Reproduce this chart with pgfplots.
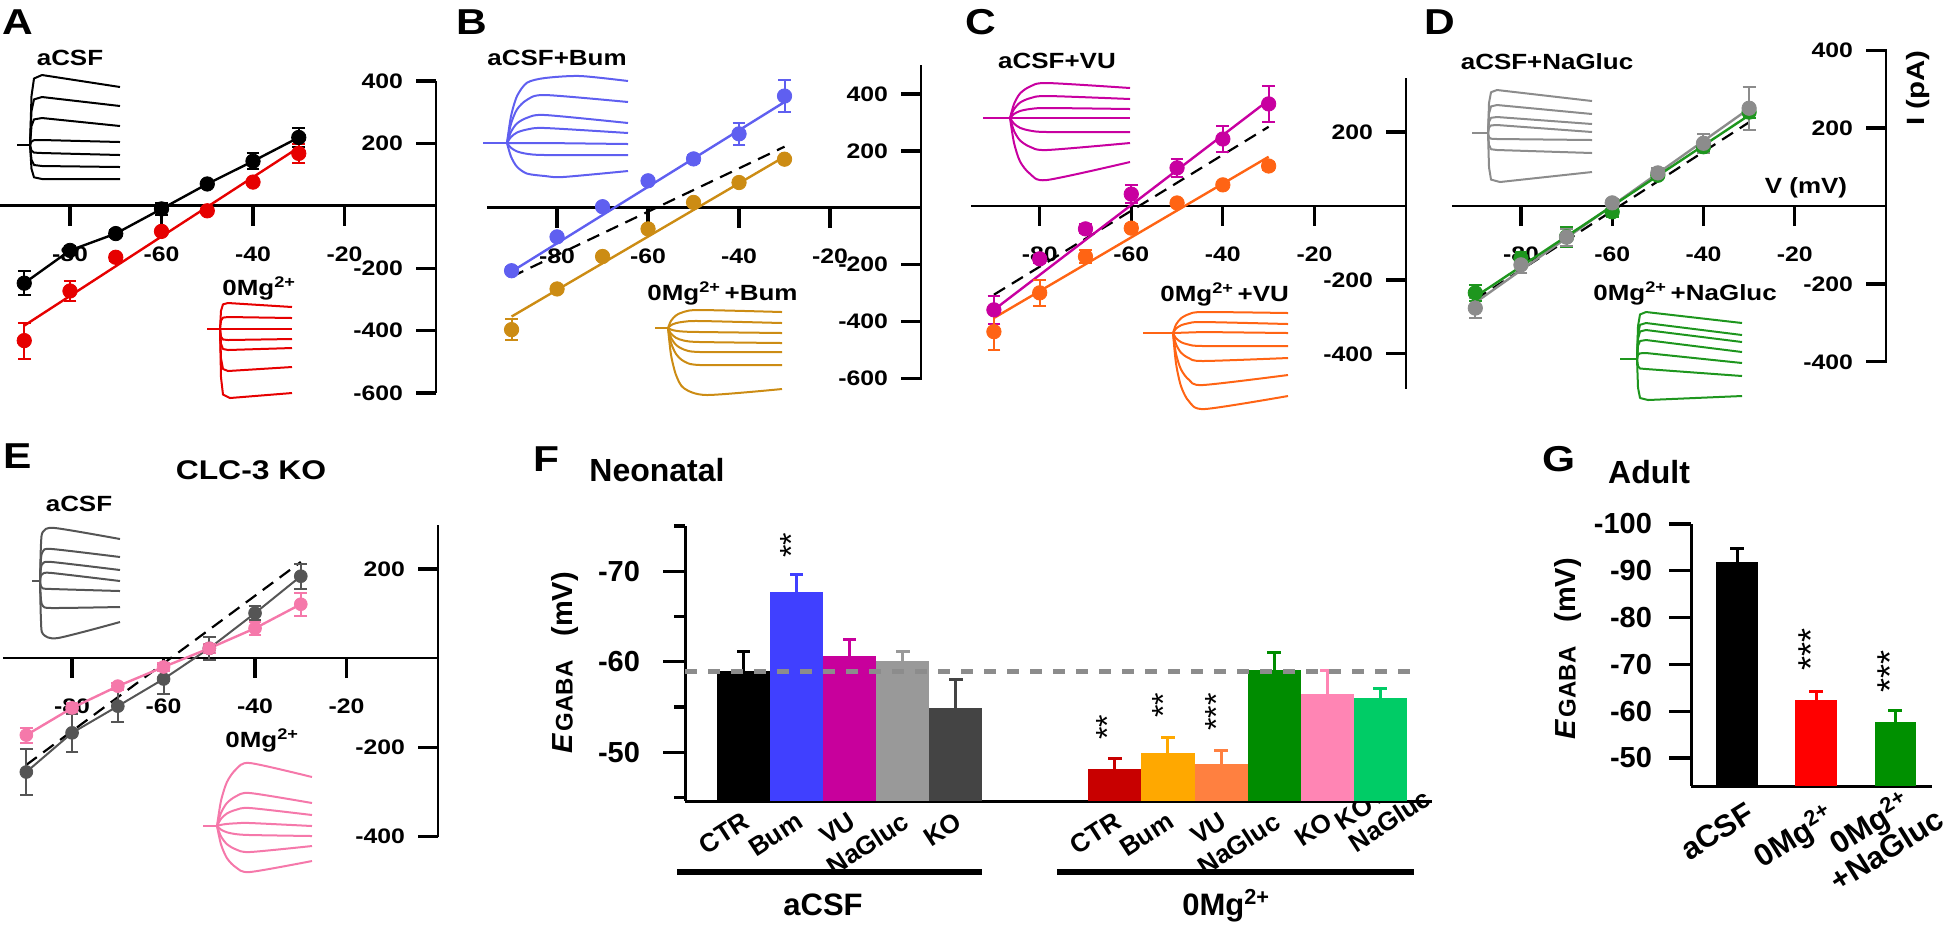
\documentclass[border=0pt]{standalone}
\usepackage{fontspec}
\setmainfont{Liberation Sans}
\newfontfamily\wf{Liberation Sans}[FakeStretch=1.18]
\usepackage{pgfplots}
\pgfplotsset{compat=1.18}

\definecolor{cRed}{RGB}{230,0,0}
\definecolor{cBlue}{RGB}{95,95,240}
\definecolor{cGold}{RGB}{204,140,20}
\definecolor{cMag}{RGB}{200,0,160}
\definecolor{cOrg}{RGB}{255,100,20}
\definecolor{cGry}{RGB}{140,140,140}
\definecolor{cGrn}{RGB}{30,150,30}
\definecolor{cDk}{RGB}{85,85,85}
\definecolor{cPnk}{RGB}{245,120,170}
\definecolor{fBum}{RGB}{64,64,255}
\definecolor{fVU}{RGB}{200,0,156}
\definecolor{fNa}{RGB}{153,153,153}
\definecolor{fKO}{RGB}{68,68,68}
\definecolor{fCTRm}{RGB}{200,0,0}
\definecolor{fBumm}{RGB}{255,168,0}
\definecolor{fVUm}{RGB}{255,128,64}
\definecolor{fNam}{RGB}{0,140,0}
\definecolor{fKOm}{RGB}{255,133,180}
\definecolor{fKONa}{RGB}{0,204,102}
\definecolor{gRed}{RGB}{255,0,0}
\definecolor{gGrn}{RGB}{0,144,0}
\definecolor{dashg}{RGB}{140,140,140}

\newcommand\tlf{\wf\bfseries\fontsize{10.5}{12}\selectfont}
\newcommand\labf{\wf\bfseries\fontsize{11}{13}\selectfont}
\newcommand\pnl{\wf\bfseries\fontsize{18}{20}\selectfont}
\newcommand\fs[1]{\fontsize{#1}{#1}\selectfont}
\newcommand\sqp{\textsuperscript{2+}}
% tick marks of the IV axes (x ticks down, y ticks to the left of the right-hand axis)
\newcommand\xt[1]{\draw[black, line width=1.6pt] (axis cs:#1,0) -- ++(0pt,-10pt);}
\newcommand\yt[1]{\draw[black, line width=1.6pt] (axis cs:0,#1) -- ++(-10pt,0pt);}
% tick marks of the bar axes
\newcommand\ybt[3]{\draw[black, line width=1.6pt] (axis cs:#1,#2) -- ++(-#3,0pt);}

\pgfplotsset{
  iv/.style={scale only axis, anchor=north west,
    axis x line=middle, axis y line=right,
    axis line style={-, line width=1.4pt},
    every inner x axis line/.append style={-}, every outer x axis line/.append style={-},
    every inner y axis line/.append style={-}, every outer y axis line/.append style={-},
    xmax=0, xtick={-80,-60,-40,-20}, xticklabels={-80,-60,-40,-20},
    xtick align=outside, ytick align=inside,
    major tick length=10pt, tick style={draw=black, line width=1.5pt},
    xticklabel style={font=\tlf, anchor=north, yshift=-7pt},
    yticklabel style={font=\tlf, anchor=east, xshift=-13pt},
    clip=false},
  pts/.style={only marks, mark=*, mark size=3.6pt, color=#1,
    mark options={fill=#1, draw=#1},
    error bars/y dir=both, error bars/y explicit,
    error bars/error bar style={#1, line width=1pt},
    error bars/error mark options={rotate=90, #1, mark size=3.2pt, line width=1pt}},
  fitl/.style={#1, line width=1.2pt, no marks},
  dsh/.style={black, line width=1.1pt, dash pattern=on 6.5pt off 4pt, no marks},
  tr/.style={#1, line width=1pt, no marks, line join=round},
  trs/.style={#1, line width=1pt, no marks, smooth, tension=0.45},
  fb/.style={fill=#1, draw=none,
    error bars/y dir=plus, error bars/y explicit,
    error bars/error bar style={draw=#1, line width=1.5pt},
    error bars/error mark options={rotate=90, draw=#1, mark size=3.3pt, line width=1.5pt}},
}

\begin{document}
\begin{tikzpicture}
\path[use as bounding box] (0,0) rectangle (973pt,-463pt);

% ---------------- overlay (pixel frame): insets, labels -------------
\begin{axis}[scale only axis, at={(0pt,0pt)}, anchor=north west,
  width=973pt, height=463pt, xmin=0, xmax=1946, ymin=0, ymax=926,
  y dir=reverse, hide axis, clip=false]
% A aCSF traces
\addplot[tr=black] coordinates {(17,145)(30,145)};
\addplot[tr=black] coordinates {(30,145)(31.5,96)(34,78.5)(42,75)(120,87)};
\addplot[tr=black] coordinates {(30,145)(31.5,111)(34,99.4)(42,97)(120,106)};
\addplot[tr=black] coordinates {(30,145)(31.5,126)(34,119.4)(42,118)(120,126)};
\addplot[tr=black] coordinates {(30,145)(31.5,141.5)(34,140.2)(42,140)(120,142)};
\addplot[tr=black] coordinates {(30,145)(31.5,150.6)(34,152.6)(42,153)(120,155)};
\addplot[tr=black] coordinates {(30,145)(31.5,159.7)(34,165)(42,166)(120,167)};
\addplot[tr=black] coordinates {(30,145)(31.5,168.8)(34,177.3)(42,179)(120,179)};
% A 0Mg traces
\addplot[tr=cRed] coordinates {(207,329)(220,329)};
\addplot[tr=cRed] coordinates {(220,329)(221,310.8)(223,304.3)(228,303)(292,307)};
\addplot[tr=cRed] coordinates {(220,329)(221,320.6)(223,317.6)(228,317)(292,318)};
\addplot[tr=cRed] coordinates {(220,329)(228,329)(292,329)};
\addplot[tr=cRed] coordinates {(220,329)(221,336.7)(223,339.5)(228,340)(292,339)};
\addplot[tr=cRed] coordinates {(220,329)(221,343.7)(223,349)(228,350)(292,348)};
\addplot[tr=cRed] coordinates {(220,329)(221,358.4)(223,369)(228,371)(292,367)};
\addplot[tr=cRed] coordinates {(220,329)(221,377.3)(223,394.6)(230,398)(292,393)};
% B aCSF+Bum
\addplot[tr=cBlue] coordinates {(483,143)(507,143)};
\addplot[trs=cBlue] coordinates {(507,143)(511,116.2)(517,96.1)(527,82.7)(545,78)(580,76)(628,81)};
\addplot[trs=cBlue] coordinates {(507,143)(511,123.8)(517,109.4)(527,99.8)(545,95)(628,102)};
\addplot[trs=cBlue] coordinates {(507,143)(511,131.8)(517,123.4)(527,117.8)(545,115)(628,123)};
\addplot[trs=cBlue] coordinates {(507,143)(511,137)(517,132.5)(527,129.5)(545,128)(628,133)};
\addplot[tr=cBlue] coordinates {(507,143)(545,143)(628,144)};
\addplot[trs=cBlue] coordinates {(507,143)(511,147.8)(517,151.4)(527,153.8)(545,155)(628,155)};
\addplot[trs=cBlue] coordinates {(507,143)(511,156.6)(517,166.8)(527,173.6)(545,176)(563,177)(628,171)};
% B 0Mg+Bum
\addplot[tr=cGold] coordinates {(655,328)(668,328)};
\addplot[trs=cGold] coordinates {(668,328)(671,320.8)(676,315.4)(684,311.8)(700,310)(782,312)};
\addplot[trs=cGold] coordinates {(668,328)(671,325.2)(676,323.1)(684,321.7)(700,321)(782,323)};
\addplot[trs=cGold] coordinates {(668,328)(671,329.6)(676,330.8)(684,331.6)(700,332)(782,333)};
\addplot[trs=cGold] coordinates {(668,328)(671,333.6)(676,337.8)(684,340.6)(700,342)(782,343)};
\addplot[trs=cGold] coordinates {(668,328)(671,337.6)(676,344.8)(684,349.6)(700,352)(782,352)};
\addplot[trs=cGold] coordinates {(668,328)(671,342.8)(676,353.9)(684,361.3)(700,365)(782,365)};
\addplot[trs=cGold] coordinates {(668,328)(671,354.8)(676,374.9)(684,388.3)(707,395)(782,389)};
% C aCSF+VU
\addplot[tr=cMag] coordinates {(983,118)(1010,118)};
\addplot[trs=cMag] coordinates {(1010,118)(1014,104)(1020,93.5)(1030,86.5)(1047,83)(1130,88)};
\addplot[trs=cMag] coordinates {(1010,118)(1014,109.2)(1020,102.6)(1030,98.2)(1047,96)(1130,99)};
\addplot[trs=cMag] coordinates {(1010,118)(1014,114)(1020,111)(1030,109)(1047,108)(1130,109)};
\addplot[tr=cMag] coordinates {(1010,118)(1047,118)(1130,118)};
\addplot[trs=cMag] coordinates {(1010,118)(1014,123.6)(1020,127.8)(1030,130.6)(1047,132)(1130,132)};
\addplot[trs=cMag] coordinates {(1010,118)(1014,130.8)(1020,140.4)(1030,146.8)(1047,150)(1130,143)};
\addplot[trs=cMag] coordinates {(1010,118)(1014,142.8)(1020,161.4)(1030,173.8)(1047,180)(1130,162)};
% C 0Mg+VU
\addplot[tr=cOrg] coordinates {(1143,333)(1173,333)};
\addplot[trs=cOrg] coordinates {(1173,333)(1176,324.6)(1181,318.3)(1189,314.1)(1203,312)(1288,313)};
\addplot[trs=cOrg] coordinates {(1173,333)(1176,328.6)(1181,325.3)(1189,323.1)(1203,322)(1288,324)};
\addplot[tr=cOrg] coordinates {(1173,333)(1203,332)(1288,333)};
\addplot[trs=cOrg] coordinates {(1173,333)(1176,338.2)(1181,342.1)(1189,344.7)(1203,346)(1288,346)};
\addplot[trs=cOrg] coordinates {(1173,333)(1176,344.2)(1181,352.6)(1189,358.2)(1203,361)(1288,358)};
\addplot[trs=cOrg] coordinates {(1173,333)(1176,353.8)(1181,369.4)(1189,379.8)(1203,385)(1288,375)};
\addplot[trs=cOrg] coordinates {(1173,333)(1176,363.4)(1181,386.2)(1189,401.4)(1205,409)(1288,396)};
% D aCSF+NaGluc
\addplot[tr=cGry] coordinates {(1472,133)(1488,133)};
\addplot[tr=cGry] coordinates {(1488,133)(1489,102.9)(1491,92.2)(1497,90)(1592,101)};
\addplot[tr=cGry] coordinates {(1488,133)(1489,113.4)(1491,106.4)(1497,105)(1592,114)};
\addplot[tr=cGry] coordinates {(1488,133)(1489,121.8)(1491,117.8)(1497,117)(1592,124)};
\addplot[tr=cGry] coordinates {(1488,133)(1489,127.4)(1491,125.4)(1497,125)(1592,132)};
\addplot[tr=cGry] coordinates {(1488,133)(1489,137.2)(1491,138.7)(1497,139)(1592,140)};
\addplot[tr=cGry] coordinates {(1488,133)(1489,144.9)(1491,149.2)(1497,150)(1592,153)};
\addplot[tr=cGry] coordinates {(1488,133)(1489,167.3)(1491,179.6)(1500,182)(1592,172)};
% D 0Mg+NaGluc
\addplot[tr=cGrn] coordinates {(1620,359)(1637,359)};
\addplot[tr=cGrn] coordinates {(1637,359)(1638,326.1)(1640,314.4)(1646,312)(1742,323)};
\addplot[tr=cGrn] coordinates {(1637,359)(1638,333.8)(1640,324.8)(1646,323)(1742,335)};
\addplot[tr=cGrn] coordinates {(1637,359)(1638,338.7)(1640,331.5)(1646,330)(1742,342)};
\addplot[tr=cGrn] coordinates {(1637,359)(1638,345.7)(1640,341)(1646,340)(1742,352)};
\addplot[tr=cGrn] coordinates {(1637,359)(1638,354.8)(1640,353.3)(1646,353)(1742,363)};
\addplot[tr=cGrn] coordinates {(1637,359)(1638,366)(1640,368.5)(1646,369)(1742,376)};
\addplot[tr=cGrn] coordinates {(1637,359)(1638,387.7)(1640,398)(1648,400)(1742,396)};
% E aCSF (KO)
\addplot[tr=cDk] coordinates {(32,581)(40,581)};
\addplot[trs=cDk] coordinates {(40,581)(41,543.9)(43,531.7)(55,528)(120,539)};
\addplot[trs=cDk] coordinates {(40,581)(41,558.6)(43,551.2)(52,549)(120,557)};
\addplot[trs=cDk] coordinates {(40,581)(41,567.7)(43,563.3)(52,562)(120,570)};
\addplot[trs=cDk] coordinates {(40,581)(41,575.4)(43,573.6)(52,573)(120,581)};
\addplot[trs=cDk] coordinates {(40,581)(41,586.6)(43,588.4)(52,589)(120,591)};
\addplot[trs=cDk] coordinates {(40,581)(41,599.9)(43,606.1)(52,608)(120,607)};
\addplot[trs=cDk] coordinates {(40,581)(41,620.9)(43,634)(58,638)(120,622)};
% E 0Mg (KO)
\addplot[tr=cPnk] coordinates {(203,826)(217,826)};
\addplot[trs=cPnk] coordinates {(217,826)(221,800.8)(227,781.9)(236,769.3)(250,763)(312,777)};
\addplot[trs=cPnk] coordinates {(217,826)(221,812.8)(227,802.9)(236,796.3)(250,793)(312,803)};
\addplot[trs=cPnk] coordinates {(217,826)(221,818.8)(227,813.4)(236,809.8)(250,808)(312,815)};
\addplot[trs=cPnk] coordinates {(217,826)(221,824.8)(227,823.9)(236,823.3)(250,823)(312,826)};
\addplot[trs=cPnk] coordinates {(217,826)(221,829.6)(227,832.3)(236,834.1)(250,835)(312,836)};
\addplot[trs=cPnk] coordinates {(217,826)(221,836.4)(227,844.2)(236,849.4)(250,852)(312,846)};
\addplot[trs=cPnk] coordinates {(217,826)(221,844.4)(227,858.2)(236,867.4)(250,872)(312,861)};
% F group bars
\addplot[black, line width=3pt, no marks] coordinates {(677,872)(982,872)};
\addplot[black, line width=3pt, no marks] coordinates {(1057,872)(1414,872)};

% panel letters
\node[font=\pnl] at (18,22) {A};
\node[font=\pnl] at (472,22) {B};
\node[font=\pnl] at (981,22) {C};
\node[font=\pnl] at (1440,22) {D};
\node[font=\pnl] at (18,456) {E};
\node[font=\pnl] at (546,459) {F};
\node[font=\pnl] at (1559,459) {G};
% inset labels
\node[font=\labf] at (70,58) {aCSF};
\node[font=\labf, anchor=base west, inner sep=0pt] at (222,295) {0Mg\sqp};
\node[font=\labf] at (557,58) {aCSF+Bum};
\node[font=\labf, anchor=base west, inner sep=0pt] at (647,300) {0Mg\sqp\,+Bum};
\node[font=\labf] at (1057,61) {aCSF+VU};
\node[font=\labf, anchor=base west, inner sep=0pt] at (1160,301) {0Mg\sqp\,+VU};
\node[font=\labf] at (1547,62) {aCSF+NaGluc};
\node[font=\labf, anchor=base west, inner sep=0pt] at (1593,300) {0Mg\sqp\,+NaGluc};
\node[font=\wf\bfseries\fs{13.5}] at (251,470) {CLC-3 KO};
\node[font=\labf] at (79,504) {aCSF};
\node[font=\labf, anchor=base west, inner sep=0pt] at (225,747) {0Mg\sqp};
\node[font=\wf\bfseries\fs{11}] at (1806,188) {V (mV)};
\node[font=\wf\bfseries\fs{12.5}, rotate=90] at (1918,88) {I (pA)};
% F / G titles and labels
\node[font=\bfseries\fs{16}] at (657,470) {Neonatal};
\node[font=\bfseries\fs{16}] at (1649,472) {Adult};
\node[font=\bfseries\fs{15.5}, anchor=base] at (823,915) {aCSF};
\node[font=\bfseries\fs{15.5}, anchor=base west, inner sep=0pt] at (1182,915) {0Mg\sqp};
\node[rotate=90, font=\bfseries] at (565,663) {{\itshape\fs{14.5}E}\,{\fs{12}GABA}\hspace{12pt}{\fs{14.5}(mV)}};
\node[rotate=90, font=\bfseries] at (1568,649) {{\itshape\fs{14.5}E}\,{\fs{12}GABA}\hspace{12pt}{\fs{14.5}(mV)}};
% significance stars
\node[rotate=90, font=\fs{16}] at (791,545) {**};
\node[rotate=90, font=\fs{16}] at (1107,727) {**};
\node[rotate=90, font=\fs{16}] at (1163,705) {**};
\node[rotate=90, font=\fs{16}] at (1216,712) {***};
\node[rotate=90, font=\fs{18}] at (1811,649) {***};
\node[rotate=90, font=\fs{18}] at (1890,671) {***};
\end{axis}

% ---------------- A ----------------
\begin{axis}[iv, at={(0pt,-40.5pt)}, width=218pt, height=156pt,
  xmin=-95.3, ymin=-600, ymax=400,
  ytick={-600,-400,-200,200,400}, yticklabels={-600,-400,-200,200,400}]
\xt{-80}\xt{-60}\xt{-40}\xt{-20}
\yt{-600}\yt{-400}\yt{-200}\yt{200}\yt{400}
\addplot[fitl=cRed] coordinates {(-90,-384) (-30,187)};
\addplot[fitl=black] coordinates {(-90,-248) (-80,-143) (-70,-89) (-60,-10) (-50,70) (-40,143) (-30,219)};
\addplot[pts=black] coordinates {(-90,-248) +- (0,38) (-80,-143) +- (0,15) (-70,-89) +- (0,12) (-60,-10) +- (0,20) (-50,70) +- (0,10) (-40,143) +- (0,25) (-30,219) +- (0,30)};
\addplot[pts=cRed] coordinates {(-90,-432) +- (0,58) (-80,-273) +- (0,32) (-70,-165) +- (0,12) (-60,-82) +- (0,8) (-50,-16) +- (0,8) (-40,76) +- (0,8) (-30,168) +- (0,30)};
\end{axis}

% ---------------- B ----------------
\begin{axis}[iv, at={(243.5pt,-32.5pt)}, width=217pt, height=157.5pt,
  xmin=-95.4, ymin=-605, ymax=502,
  ytick={-600,-400,-200,200,400}, yticklabels={-600,-400,-200,200,400}]
\xt{-80}\xt{-60}\xt{-40}\xt{-20}
\yt{-600}\yt{-400}\yt{-200}\yt{200}\yt{400}
\addplot[dsh] coordinates {(-90,-242) (-30,215)};
\addplot[fitl=cBlue] coordinates {(-90,-224) (-30,372)};
\addplot[fitl=cGold] coordinates {(-90,-382) (-30,180)};
\addplot[pts=cBlue] coordinates {(-90,-221) +- (0,12) (-80,-102) +- (0,8) (-70,4) +- (0,8) (-60,95) +- (0,8) (-50,172) +- (0,15) (-40,260) +- (0,38) (-30,393) +- (0,57)};
\addplot[pts=cGold] coordinates {(-90,-428) +- (0,37) (-80,-285) +- (0,15) (-70,-171) +- (0,12) (-60,-74) +- (0,8) (-50,19) +- (0,8) (-40,89) +- (0,8) (-30,171) +- (0,8)};
\end{axis}

% ---------------- C ----------------
\begin{axis}[iv, at={(485.5pt,-39pt)}, width=217.5pt, height=155.5pt,
  xmin=-95.0, ymin=-495, ymax=346,
  ytick={-400,-200,200}, yticklabels={-400,-200,200}]
\xt{-80}\xt{-60}\xt{-40}\xt{-20}
\yt{-400}\yt{-200}\yt{200}
\addplot[dsh] coordinates {(-90,-240) (-30,214)};
\addplot[fitl=cMag] coordinates {(-90,-281) (-30,286)};
\addplot[fitl=cOrg] coordinates {(-90,-303) (-30,133)};
\addplot[pts=cMag] coordinates {(-90,-281) +- (0,38) (-80,-143) +- (0,10) (-70,-62) +- (0,12) (-60,32) +- (0,25) (-50,103) +- (0,25) (-40,181) +- (0,35) (-30,276) +- (0,49)};
\addplot[pts=cOrg] coordinates {(-90,-340) +- (0,50) (-80,-235) +- (0,36) (-70,-137) +- (0,18) (-60,-60) +- (0,10) (-50,8) +- (0,8) (-40,57) +- (0,8) (-30,108) +- (0,12)};
\end{axis}

% ---------------- D ----------------
\begin{axis}[iv, at={(726pt,-24.5pt)}, width=217pt, height=157pt,
  xmin=-95.1, ymin=-403, ymax=403,
  ytick={-400,-200,200,400}, yticklabels={-400,-200,200,400}]
\xt{-80}\xt{-60}\xt{-40}\xt{-20}
\yt{-400}\yt{-200}\yt{200}\yt{400}
\addplot[dsh] coordinates {(-90,-240) (-30,215)};
\addplot[fitl=cGry] coordinates {(-90,-248) (-30,250)};
\addplot[fitl=cGrn] coordinates {(-90,-233) (-30,233)};
\addplot[pts=cGrn] coordinates {(-90,-223) +- (0,20) (-80,-134) +- (0,15) (-70,-79) +- (0,26) (-60,-15) +- (0,12) (-50,79) +- (0,10) (-40,152) +- (0,12) (-30,241) +- (0,15)};
\addplot[pts=cGry] coordinates {(-90,-262) +- (0,26) (-80,-151) +- (0,20) (-70,-80) +- (0,22) (-60,8) +- (0,10) (-50,85) +- (0,12) (-40,161) +- (0,25) (-30,251) +- (0,55)};
\end{axis}

% ---------------- E ----------------
\begin{axis}[iv, at={(1.5pt,-262.5pt)}, width=217.5pt, height=156pt,
  xmin=-95.1, ymin=-402, ymax=299,
  ytick={-400,-200,200}, yticklabels={-400,-200,200}]
\xt{-80}\xt{-60}\xt{-40}\xt{-20}
\yt{-400}\yt{-200}\yt{200}
\addplot[dsh] coordinates {(-90,-240) (-30,216)};
\addplot[fitl=cDk, line width=1pt] coordinates {(-90,-256) (-80,-168) (-70,-108) (-60,-47) (-50,22) (-40,101) (-30,184)};
\addplot[fitl=cPnk] coordinates {(-90,-173) (-80,-112) (-70,-63) (-60,-20) (-50,22) (-40,67) (-30,121)};
\addplot[pts=cDk, mark size=3.2pt] coordinates {(-90,-256) +- (0,52) (-80,-168) +- (0,43) (-70,-108) +- (0,36) (-60,-47) +- (0,34) (-50,22) +- (0,26) (-40,101) +- (0,15) (-30,184) +- (0,28)};
\addplot[pts=cPnk, mark size=3.2pt] coordinates {(-90,-173) +- (0,17) (-80,-112) +- (0,10) (-70,-63) +- (0,8) (-60,-20) +- (0,8) (-50,22) +- (0,10) (-40,67) +- (0,15) (-30,121) +- (0,26)};
\end{axis}

% ---------------- F (values are -E_GABA in mV) ----------------
\begin{axis}[scale only axis, anchor=north west, at={(342.5pt,-263pt)},
  width=373.5pt, height=137.5pt,
  xmin=-1.11, xmax=12.98, ymin=44.6, ymax=75,
  axis x line=bottom, axis y line=left,
  axis line style={-, line width=1.5pt},
  ytick={50,60,70}, yticklabels={-50,-60,-70}, minor ytick={45,55,65,75},
  ytick align=outside, major tick length=11pt, minor tick length=5.5pt,
  tick style={draw=black, line width=1.5pt},
  major x tick style={draw=none},
  xtick={0,1,2,3,4,7,8,9,10,11},
  xticklabels={CTR,Bum,VU,NaGluc,KO,CTR,Bum,VU,NaGluc,KO},
  extra x ticks={12}, extra x tick labels={{KO+\\NaGluc}},
  extra x tick style={major tick length=0pt, xticklabel style={xshift=19pt, yshift=1pt}},
  xticklabel style={font=\bfseries\fs{13}, yshift=11pt, rotate=33, anchor=north east, align=left},
  yticklabel style={font=\bfseries\fs{14.5}, xshift=-8pt},
  ybar, bar width=1, bar shift=0pt, clip=false]
\ybt{-1.11}{50}{11pt}\ybt{-1.11}{60}{11pt}\ybt{-1.11}{70}{11pt}
\ybt{-1.11}{45}{5.5pt}\ybt{-1.11}{55}{5.5pt}\ybt{-1.11}{65}{5.5pt}\ybt{-1.11}{75}{5.5pt}
\addplot[fb=black] coordinates {(0,59.0) +- (0,2.1)};
\addplot[fb=fBum] coordinates {(1,67.7) +- (0,1.9)};
\addplot[fb=fVU] coordinates {(2,60.6) +- (0,1.9)};
\addplot[fb=fNa] coordinates {(3,60.1) +- (0,1.0)};
\addplot[fb=fKO] coordinates {(4,54.9) +- (0,3.1)};
\addplot[fb=fCTRm] coordinates {(7,48.1) +- (0,1.2)};
\addplot[fb=fBumm] coordinates {(8,49.9) +- (0,1.7)};
\addplot[fb=fVUm] coordinates {(9,48.7) +- (0,1.5)};
\addplot[fb=fNam] coordinates {(10,59.1) +- (0,1.9)};
\addplot[fb=fKOm] coordinates {(11,56.4) +- (0,2.6)};
\addplot[fb=fKONa] coordinates {(12,56.0) +- (0,1.0)};
\addplot[sharp plot, dashg, line width=2.5pt, dash pattern=on 6pt off 5.5pt, no marks] coordinates {(-1.11,58.9) (12.62,58.9)};
\end{axis}

% ---------------- G (values are -E_GABA in mV) ----------------
\begin{axis}[scale only axis, anchor=north west, at={(845.5pt,-262pt)},
  width=120.5pt, height=131pt,
  xmin=-0.582, xmax=2.468, ymin=44, ymax=100,
  axis x line=bottom, axis y line=left,
  axis line style={-, line width=1.5pt},
  ytick={50,60,70,80,90,100}, yticklabels={-50,-60,-70,-80,-90,-100},
  ytick align=outside, major tick length=11pt,
  tick style={draw=black, line width=1.5pt},
  major x tick style={draw=none},
  xtick={0,1}, xticklabels={aCSF,0Mg\sqp},
  extra x ticks={2}, extra x tick labels={{0Mg\sqp\\+NaGluc}},
  extra x tick style={major tick length=0pt, xticklabel style={xshift=6pt, yshift=-3pt}},
  xticklabel style={font=\bfseries\fs{15.5}, xshift=5pt, yshift=8.5pt, rotate=32, anchor=north east, align=center},
  yticklabel style={font=\bfseries\fs{14.5}, xshift=-5pt},
  ybar, bar width=0.52, bar shift=0pt, clip=false]
\ybt{-0.582}{50}{11pt}\ybt{-0.582}{60}{11pt}\ybt{-0.582}{70}{11pt}
\ybt{-0.582}{80}{11pt}\ybt{-0.582}{90}{11pt}\ybt{-0.582}{100}{11pt}
\addplot[fb=black] coordinates {(0,91.9) +- (0,2.8)};
\addplot[fb=gRed] coordinates {(1,62.4) +- (0,1.9)};
\addplot[fb=gGrn] coordinates {(2,57.6) +- (0,2.6)};
\end{axis}
\end{tikzpicture}
\end{document}
